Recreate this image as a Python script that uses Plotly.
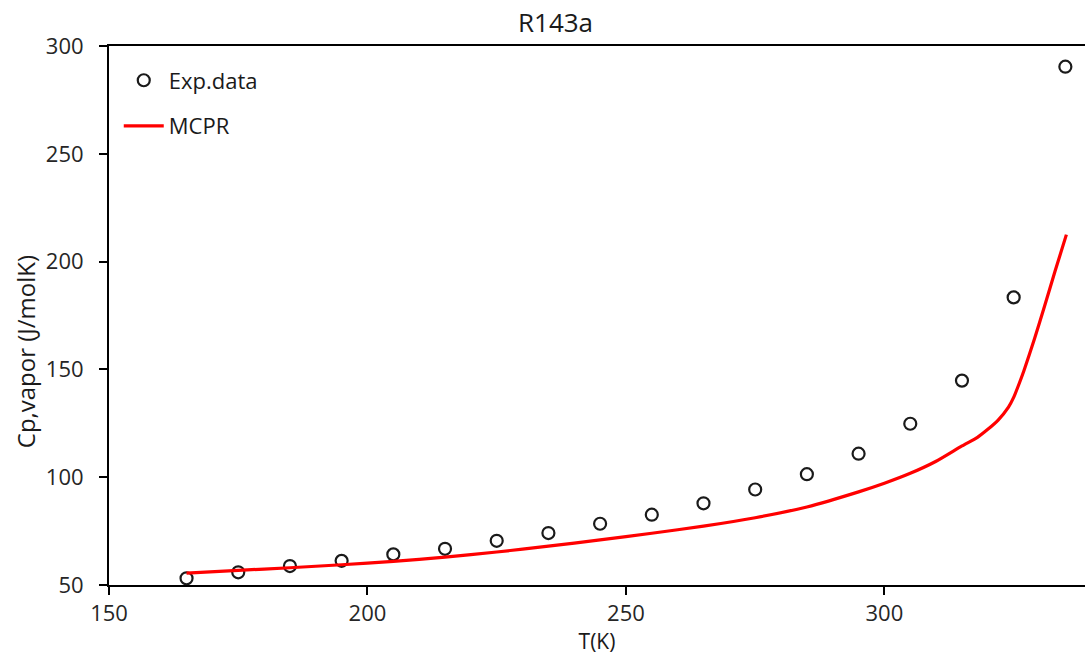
import plotly.graph_objects as go

# Experimental vapour heat capacity of R143a
exp_T = [165, 175, 185, 195, 205, 215, 225, 235, 245, 255, 265, 275, 285, 295, 305, 315, 325, 335]
exp_cp = [53.1, 55.9, 58.8, 61.2, 64.2, 66.8, 70.5, 74.1, 78.4, 82.6, 87.9, 94.3, 101.4, 110.9, 124.8, 144.8, 183.4, 290.4]

# MCPR model curve
mcpr_T = [165, 175, 185, 195, 205, 215, 225, 235, 245, 255, 265, 275, 285, 295, 300,
          305, 310, 315, 318, 320, 322, 324, 325, 326, 327, 329, 331, 333, 335.2]
mcpr_cp = [55.5, 56.8, 58.0, 59.4, 61.0, 62.9, 65.3, 68.0, 70.9, 74.0, 77.3, 81.2, 86.2, 93.2, 97.2,
           101.8, 107.4, 114.5, 118.5, 122.2, 126.5, 132.5, 137.0, 143.0, 149.5, 164.0, 179.5, 195.5, 212.5]

x_ticks = [150, 200, 250, 300]
y_ticks = [50, 100, 150, 200, 250, 300]

font_family = "Open Sans, Noto Sans, Liberation Sans, sans-serif"
text_color = "#262626"

fig = go.Figure()
fig.add_trace(go.Scatter(
    x=exp_T, y=exp_cp, mode="markers", name="Exp.data",
    legendgroup="exp",
    marker=dict(symbol="circle-open", size=12, color="#1a1a1a", line=dict(width=2.2, color="#1a1a1a")),
))
fig.add_trace(go.Scatter(
    x=mcpr_T, y=mcpr_cp, mode="lines", name="MCPR",
    legendgroup="mcpr",
    line=dict(color="#ff0000", width=3.2, shape="spline", smoothing=0.6),
))

fig.update_layout(
    width=1085, height=657,
    margin=dict(l=109, r=0, t=46, b=72),
    paper_bgcolor="white", plot_bgcolor="white",
    font=dict(family=font_family, color=text_color, size=22),
    title=dict(text="R143a", x=0.512, xanchor="center", y=0.965, yanchor="middle",
               font=dict(size=26, color="#1a1a1a")),
    showlegend=True,
    legend=dict(x=0.01, y=0.975, xanchor="left", yanchor="top",
                bgcolor="rgba(0,0,0,0)", font=dict(size=22, color="#1a1a1a"),
                tracegroupgap=14, itemwidth=40),
    xaxis=dict(
        range=[150, 338.8], tickvals=x_ticks, ticktext=[str(v) for v in x_ticks],
        showgrid=False, zeroline=False,
        showline=True, linecolor="#000000", linewidth=2, mirror=True,
        ticks="outside", ticklen=8, tickwidth=2, tickcolor="#000000",
        tickfont=dict(size=22, color=text_color),
        title=dict(text="T(K)", font=dict(size=21, color="#1a1a1a"), standoff=4),
    ),
    yaxis=dict(
        range=[50, 300], tickvals=y_ticks, ticktext=[str(v) for v in y_ticks],
        showgrid=False, zeroline=False,
        showline=True, linecolor="#000000", linewidth=2, mirror=False,
        ticks="outside", ticklen=8, tickwidth=2, tickcolor="#000000",
        tickfont=dict(size=22, color=text_color), ticklabelstandoff=11,
    ),
    annotations=[dict(
        text="Cp,vapor (J/molK)", textangle=-90,
        xref="paper", yref="paper", x=-0.086, y=0.432,
        xanchor="center", yanchor="middle", showarrow=False,
        font=dict(size=24, color="#1a1a1a"),
    )],
)

fig.write_html("out.html")
